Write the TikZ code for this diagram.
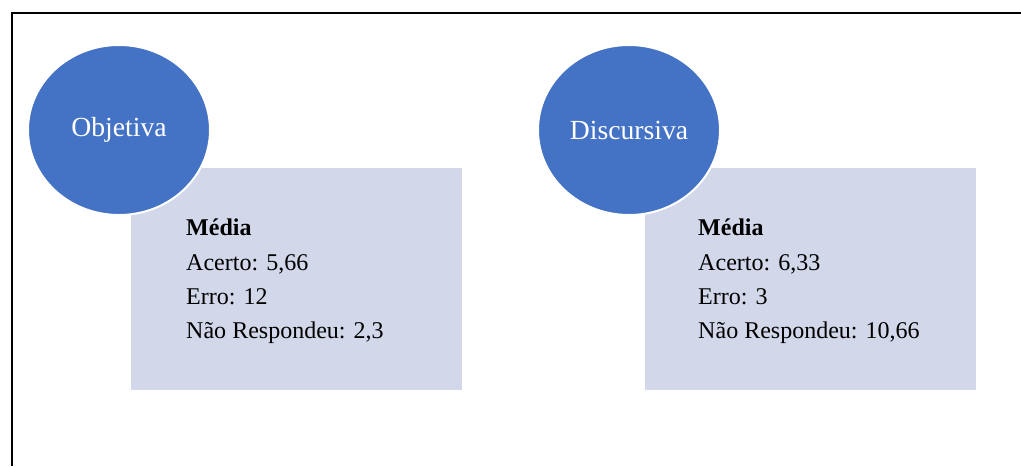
\documentclass[tikz,border=0pt]{standalone}
\usepackage{fontspec}
\setmainfont{Liberation Serif}
\usepackage{tikz}
\usetikzlibrary{shapes.geometric}
\definecolor{ovalblue}{HTML}{4472C4}
\definecolor{boxblue}{HTML}{D2D8EA}

\begin{document}
\begin{tikzpicture}[x=0.03cm,y=-0.03cm,
  oval node/.style={ellipse,fill=ovalblue,draw=white,line width=1.7pt,inner sep=0pt,
    minimum width=5.46cm,minimum height=5.1cm,text=white,font=\fontsize{23.6}{28}\selectfont},
  box node/.style={rectangle,fill=boxblue,draw=none,minimum width=9.93cm,minimum height=6.66cm},
  line node/.style={anchor=base west,inner sep=0pt,font=\fontsize{20.5}{24}\selectfont}]

  \useasboundingbox (0,0) rectangle (1021,466);
  \draw[line width=2.1pt] (12,466) -- (12,13) -- (1021,13);

  % objetiva
  \node[box node] (obj box) at (296.5,279) {};
  \node[oval node] (obj) at (119,130) {Objetiva};
  \node[line node] (obj media) at (186,235) {\textbf{Média}};
  \node[line node] (obj acerto) at (186,270) {Acerto: 5,66};
  \node[line node] (obj erro) at (186,304) {Erro: 12};
  \node[line node] (obj nao) at (186,338) {Não Respondeu: 2,3};

  % discursiva
  \node[box node] (disc box) at (810.5,279) {};
  \node[oval node] (disc) at (629,130) {Discursiva};
  \node[line node] (disc media) at (698,235) {\textbf{Média}};
  \node[line node] (disc acerto) at (698,270) {Acerto: 6,33};
  \node[line node] (disc erro) at (698,304) {Erro: 3};
  \node[line node] (disc nao) at (698,338) {Não Respondeu: 10,66};
\end{tikzpicture}
\end{document}
